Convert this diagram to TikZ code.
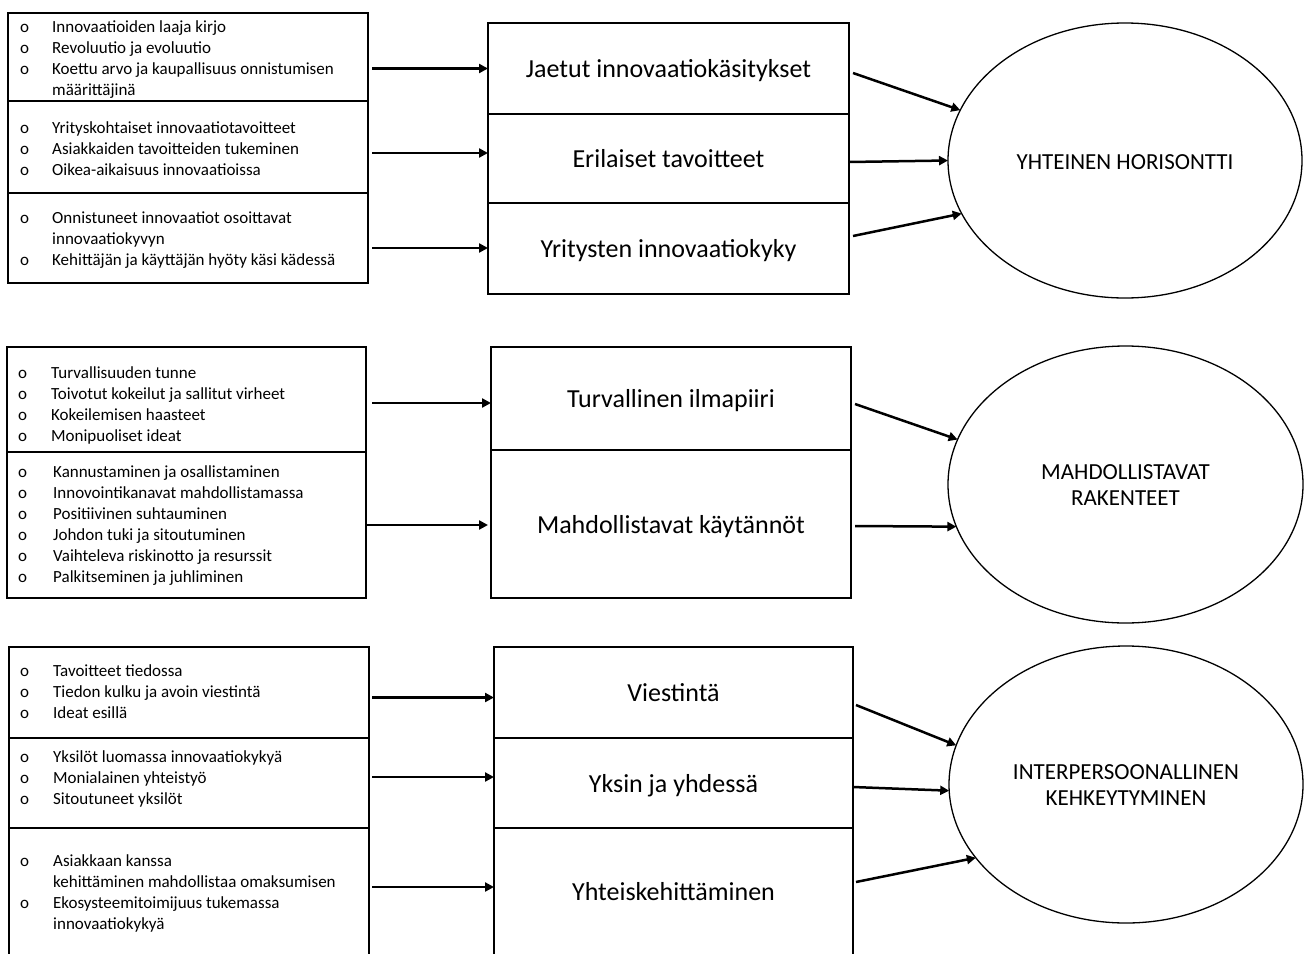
\documentclass[tikz,border=0pt]{standalone}
\usepackage{fontspec}
\setmainfont{Carlito}
\usetikzlibrary{arrows.meta,calc,shapes.geometric}
\begin{document}
\begin{tikzpicture}[x=1pt,y=-1pt,
  cell/.style={draw, line width=1.2pt, rectangle, inner sep=0pt, outer sep=0pt},
  midcell/.style={cell, font=\fontsize{26}{30}\selectfont, text height=18pt, text depth=0pt},
  oval/.style={draw, line width=1.3pt, ellipse, inner sep=0pt, outer sep=0pt, align=center,
    font=\fontsize{23}{26.5}\selectfont, text height=42.4pt, text depth=0pt},
  listtext/.style={anchor=base west, inner sep=0pt, font=\fontsize{17}{21}\selectfont},
  arr/.style={line width=2.5pt, -{Triangle[length=9pt,width=9pt]}}
]
\clip (0,0) rectangle (1306,953);
\fill[white] (0,0) rectangle (1306,953);

% ---------- Section 1 ----------
\node[cell, minimum width=360, minimum height=88] (l11) at (188,57) {};
\node[cell, minimum width=360, minimum height=92] (l12) at (188,147) {};
\node[cell, minimum width=360, minimum height=90] (l13) at (188,238) {};

\node[listtext] (t11) at (20,32) {\begin{tabular}[t]{@{}p{32pt}@{}l@{}}
o & Innovaatioiden laaja kirjo\\
o & Revoluutio ja evoluutio\\
o & Koettu arvo ja kaupallisuus onnistumisen\\
  & määrittäjinä
\end{tabular}};
\node[listtext] (t12) at (20,133) {\begin{tabular}[t]{@{}p{32pt}@{}l@{}}
o & Yrityskohtaiset innovaatiotavoitteet\\
o & Asiakkaiden tavoitteiden tukeminen\\
o & Oikea-aikaisuus innovaatioissa
\end{tabular}};
\node[listtext] (t13) at (20,223) {\begin{tabular}[t]{@{}p{32pt}@{}l@{}}
o & Onnistuneet innovaatiot osoittavat\\
  & innovaatiokyvyn\\
o & Kehittäjän ja käyttäjän hyöty käsi kädessä
\end{tabular}};

\node[midcell, minimum width=361, minimum height=91] (m11) at (668.5,68.5) {Jaetut innovaatiokäsitykset};
\node[midcell, minimum width=361, minimum height=89] (m12) at (668.5,158.5) {Erilaiset tavoitteet};
\node[midcell, minimum width=361, minimum height=91] (m13) at (668.5,248.5) {Yritysten innovaatiokyky};

\node[oval, text height=17.6pt, minimum width=354, minimum height=275] (e1) at (1125,160.5) {YHTEINEN HORISONTTI};

\draw[arr] ($(l11.east)+(4,11.5)$) -- ($(m11.west)+(0,0)$);
\draw[arr] ($(l12.east)+(4,6)$) -- ($(m12.west)+(0,-5.5)$);
\draw[arr] ($(l13.east)+(4,10)$) -- ($(m13.west)+(0,-0.5)$);

\draw[arr] ($(m11.east)+(4,4.5)$) -- (e1.163.9);
\draw[arr] ($(m12.east)+(0,3.5)$) -- (e1.180);
\draw[arr] ($(m13.east)+(4,-12.5)$) -- (e1.198.3);

% ---------- Section 2 ----------
\node[cell, minimum width=359, minimum height=105] (l21) at (186.5,399.5) {};
\node[cell, minimum width=359, minimum height=146] (l22) at (186.5,525) {};

\node[listtext] (t21) at (18,378) {\begin{tabular}[t]{@{}p{33pt}@{}l@{}}
o & Turvallisuuden tunne\\
o & Toivotut kokeilut ja sallitut virheet\\
o & Kokeilemisen haasteet\\
o & Monipuoliset ideat
\end{tabular}};
\node[listtext] (t22) at (18,477.5) {\begin{tabular}[t]{@{}p{35pt}@{}l@{}}
o & Kannustaminen ja osallistaminen\\
o & Innovointikanavat mahdollistamassa\\
o & Positiivinen suhtauminen\\
o & Johdon tuki ja sitoutuminen\\
o & Vaihteleva riskinotto ja resurssit\\
o & Palkitseminen ja juhliminen
\end{tabular}};

\node[midcell, minimum width=360, minimum height=103] (m21) at (671,398.5) {Turvallinen ilmapiiri};
\node[midcell, minimum width=360, minimum height=148] (m22) at (671,524) {Mahdollistavat käytännöt};

\node[oval, minimum width=355, minimum height=277] (e2) at (1125.5,484.5) {MAHDOLLISTAVAT\\RAKENTEET};

\draw[arr] ($(l21.east)+(6,3.5)$) -- ($(m21.west)+(0,4.5)$);
\draw[arr] ($(l22.east)+(0,0)$) -- ($(m22.west)+(-3,1)$);

\draw[arr] ($(m21.east)+(4,5.5)$) -- (e2.165.4);
\draw[arr] ($(m22.east)+(4,2)$) -- (e2.194.3);

% ---------- Section 3 ----------
\node[cell, minimum width=360, minimum height=91] (l31) at (189,692.5) {};
\node[cell, minimum width=360, minimum height=90] (l32) at (189,783) {};
\node[cell, minimum width=360, minimum height=140] (l33) at (189,898) {};

\node[listtext] (t31) at (20,676) {\begin{tabular}[t]{@{}p{33pt}@{}l@{}}
o & Tavoitteet tiedossa\\
o & Tiedon kulku ja avoin viestintä\\
o & Ideat esillä
\end{tabular}};
\node[listtext] (t32) at (20,762) {\begin{tabular}[t]{@{}p{33pt}@{}l@{}}
o & Yksilöt luomassa innovaatiokykyä\\
o & Monialainen yhteistyö\\
o & Sitoutuneet yksilöt
\end{tabular}};
\node[listtext] (t33) at (20,866) {\begin{tabular}[t]{@{}p{33pt}@{}l@{}}
o & Asiakkaan kanssa\\
  & kehittäminen mahdollistaa omaksumisen\\
o & Ekosysteemitoimijuus tukemassa\\
  & innovaatiokykyä
\end{tabular}};

\node[midcell, minimum width=359, minimum height=91] (m31) at (673.5,692.5) {Viestintä};
\node[midcell, minimum width=359, minimum height=90] (m32) at (673.5,783) {Yksin ja yhdessä};
\node[midcell, text height=4pt, minimum width=359, minimum height=140] (m33) at (673.5,898) {Yhteiskehittäminen};

\node[oval, minimum width=354, minimum height=277] (e3) at (1126,784.5) {INTERPERSOONALLINEN\\KEHKEYTYMINEN};

\draw[arr] ($(l31.east)+(3,5)$) -- ($(m31.west)+(0,5)$);
\draw[arr] ($(l32.east)+(3,-6)$) -- ($(m32.west)+(0,-6)$);
\draw[arr] ($(l33.east)+(3,-11)$) -- ($(m33.west)+(0,-11)$);

\draw[arr] ($(m31.east)+(3,12.5)$) -- (e3.167.5);
\draw[arr] ($(m32.east)+(0,4)$) -- (e3.182.4);
\draw[arr] ($(m33.east)+(3,-16)$) -- (e3.206.1);
\end{tikzpicture}
\end{document}
